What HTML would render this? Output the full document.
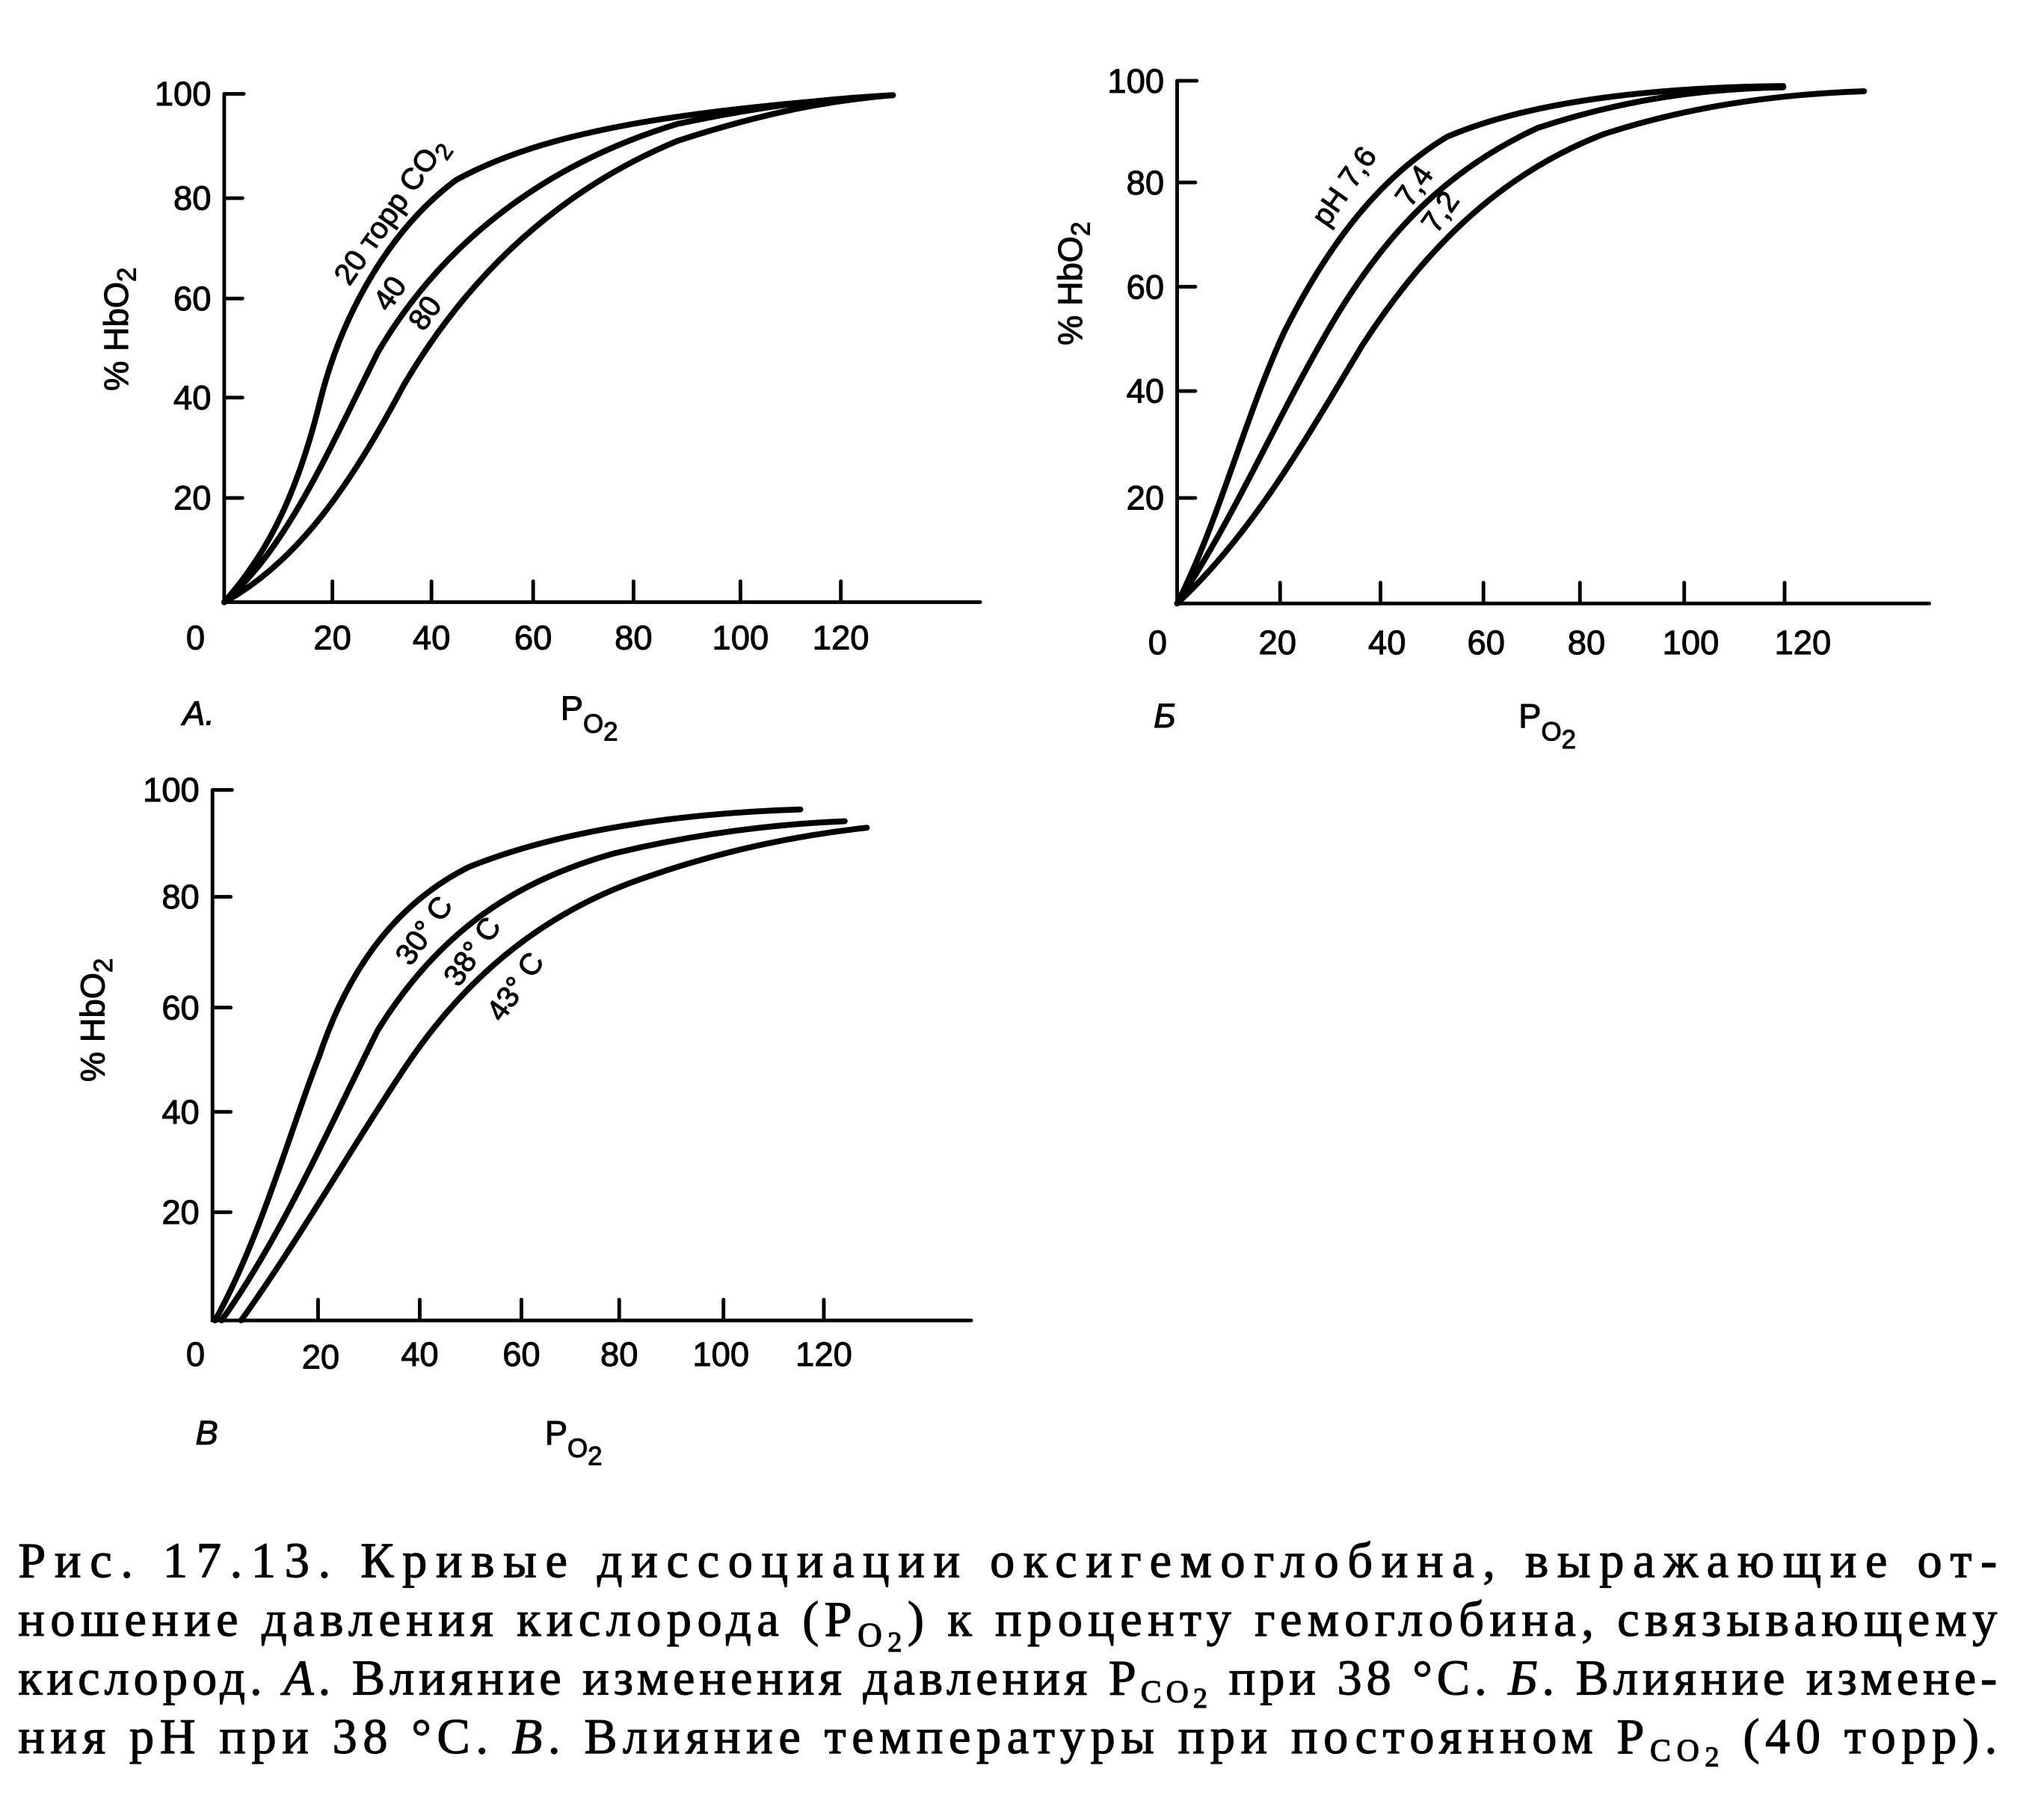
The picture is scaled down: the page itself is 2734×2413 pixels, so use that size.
<!DOCTYPE html>
<html><head><meta charset="utf-8"><style>html,body{margin:0;padding:0;background:#fff}svg{display:block}</style></head>
<body>
<svg width="2734" height="2413" viewBox="0 0 1568 1384" preserveAspectRatio="none" xmlns="http://www.w3.org/2000/svg" font-family="Liberation Sans, DejaVu Sans, sans-serif">
<rect width="1568" height="1384" fill="#fff"/>
<g stroke="#000" stroke-width="2.8" fill="none" stroke-linecap="round">
<path d="M172 72 H187 M172 72 V462 H752 M172 152 H186 M172 229 H186 M172 305 H186 M172 382 H186 M255 462 V446 M331 462 V446 M409 462 V446 M486 462 V446 M568 462 V446 M645 462 V446"/>
<path d="M903 62 H918 M903 62 V463 H1480 M903 140 H917 M903 220 H917 M903 300 H917 M903 382 H917 M982 463 V447 M1059 463 V447 M1138 463 V447 M1212 463 V447 M1292 463 V447 M1369 463 V447"/>
<path d="M163 606 H178 M163 606 V1013 H745 M163 688 H177 M163 773 H177 M163 853 H177 M163 930 H177 M244 1013 V997 M322 1013 V997 M400 1013 V997 M475 1013 V997 M555 1013 V997 M632 1013 V997"/>
</g>
<g stroke="#000" stroke-width="4.5" fill="none" stroke-linejoin="round" stroke-linecap="round">
<path d="M172 462 C200 430 225 390 245 310 C262 240 300 175 350 138 C420 100 520 85 685 73"/>
<path d="M172 462 C220 420 250 350 290 270 C340 185 420 125 520 95 C600 78 650 75 685 73"/>
<path d="M172 462 C230 430 270 370 310 295 C360 210 430 145 520 108 C600 82 650 76 685 73"/>
<path d="M903 463 C935 400 955 320 985 255 C1020 185 1060 135 1110 105 C1180 75 1280 67 1368 66"/>
<path d="M903 463 C945 400 975 330 1015 260 C1060 180 1110 130 1180 98 C1250 75 1310 68 1368 67"/>
<path d="M903 463 C960 410 1000 340 1045 265 C1100 180 1160 130 1230 103 C1300 80 1370 72 1430 70"/>
<path d="M165 1013 C200 950 225 860 245 810 C270 735 310 690 360 665 C430 637 520 624 614 621"/>
<path d="M170 1013 C215 950 250 870 290 790 C340 710 400 675 470 655 C540 638 600 632 648 630"/>
<path d="M185 1013 C230 950 270 880 310 820 C360 745 420 700 490 675 C560 650 620 640 665 635"/>
</g>
<g font-size="26" fill="#000" stroke="#000" stroke-width="0.6">
<g text-anchor="end">
<text x="162" y="81">100</text><text x="162" y="161">80</text><text x="162" y="238">60</text><text x="162" y="314">40</text><text x="162" y="391">20</text>
<text x="893" y="71">100</text><text x="893" y="149">80</text><text x="893" y="229">60</text><text x="893" y="309">40</text><text x="893" y="391">20</text>
<text x="153" y="615">100</text><text x="153" y="697">80</text><text x="153" y="782">60</text><text x="153" y="862">40</text><text x="153" y="939">20</text>
</g>
<g text-anchor="middle">
<text x="150" y="498">0</text><text x="255" y="498">20</text><text x="331" y="498">40</text><text x="409" y="498">60</text><text x="486" y="498">80</text><text x="568" y="498">100</text><text x="645" y="498">120</text>
<text x="888" y="502">0</text><text x="980" y="502">20</text><text x="1064" y="502">40</text><text x="1140" y="502">60</text><text x="1217" y="502">80</text><text x="1297" y="502">100</text><text x="1383" y="502">120</text>
<text x="150" y="1048">0</text><text x="246" y="1050">20</text><text x="322" y="1048">40</text><text x="400" y="1048">60</text><text x="475" y="1048">80</text><text x="553" y="1048">100</text><text x="632" y="1048">120</text>
</g>
<text x="140" y="556" font-style="italic">A.</text>
<text x="885" y="558" font-style="italic">Б</text>
<text x="150" y="1108" font-style="italic">В</text>
<text x="430" y="552">P<tspan font-size="20" dy="10">O</tspan><tspan font-size="20" dy="6">2</tspan></text>
<text x="1165" y="558">P<tspan font-size="20" dy="10">O</tspan><tspan font-size="20" dy="6">2</tspan></text>
<text x="418" y="1108">P<tspan font-size="20" dy="10">O</tspan><tspan font-size="20" dy="6">2</tspan></text>
<text transform="translate(98 300) rotate(-90)">% HbO<tspan font-size="20" dy="6">2</tspan></text>
<text transform="translate(830 265) rotate(-90)">% HbO<tspan font-size="20" dy="6">2</tspan></text>
<text transform="translate(80 830) rotate(-90)">% HbO<tspan font-size="20" dy="6">2</tspan></text>
<text font-size="23" transform="translate(268 220) rotate(-55)">20 торр CO<tspan font-size="18" dy="6">2</tspan></text>
<text font-size="23" transform="translate(298 240) rotate(-55)">40</text>
<text font-size="23" transform="translate(325 255) rotate(-55)">80</text>
<text font-size="23" transform="translate(1018 175) rotate(-55)">pH 7,6</text>
<text font-size="23" transform="translate(1082 160) rotate(-55)">7,4</text>
<text font-size="23" transform="translate(1102 180) rotate(-55)">7,2</text>
<text font-size="23" transform="translate(315 742) rotate(-55)">30° C</text>
<text font-size="23" transform="translate(352 758) rotate(-55)">38° C</text>
<text font-size="23" transform="translate(385 785) rotate(-55)">43° C</text>
</g>
<g font-family="Liberation Serif, DejaVu Serif, serif" font-size="38" fill="#000" stroke="#000" stroke-width="0.7">
<text x="14" y="1210" textLength="1518" lengthAdjust="spacing">Рис. 17.13. Кривые диссоциации оксигемоглобина, выражающие от-</text>
<text x="14" y="1255" textLength="1518" lengthAdjust="spacing">ношение давления кислорода (P<tspan font-size="26" dy="8">O</tspan><tspan font-size="22" dy="4">2</tspan><tspan dy="-12">) к проценту гемоглобина, связывающему</tspan></text>
<text x="14" y="1300" textLength="1518" lengthAdjust="spacing">кислород. <tspan font-style="italic">А</tspan>. Влияние изменения давления P<tspan font-size="24" dy="6">CO</tspan><tspan font-size="22" dy="4">2</tspan><tspan dy="-10"> при 38 °С. <tspan font-style="italic">Б</tspan>. Влияние измене-</tspan></text>
<text x="14" y="1345" textLength="1518" lengthAdjust="spacing">ния pH при 38 °С. <tspan font-style="italic">В</tspan>. Влияние температуры при постоянном P<tspan font-size="24" dy="6">CO</tspan><tspan font-size="22" dy="4">2</tspan><tspan dy="-10"> (40 торр).</tspan></text>
</g>
</svg>
</body></html>
